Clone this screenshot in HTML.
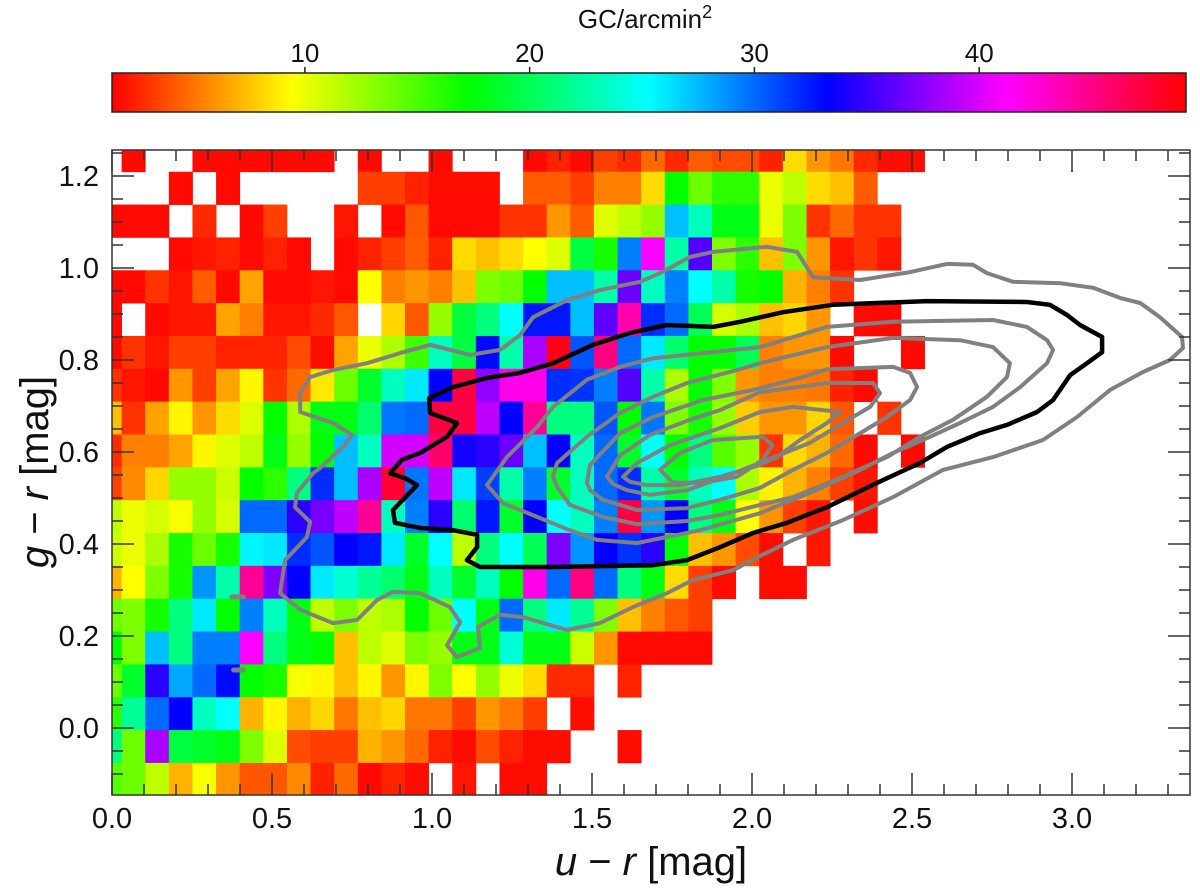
<!DOCTYPE html>
<html><head><meta charset="utf-8">
<style>
html,body{margin:0;padding:0;background:#fff;}
svg{display:block;font-family:"Liberation Sans",Arial,sans-serif;}
</style></head>
<body>
<svg id="chart" width="1200" height="890" viewBox="0 0 1200 890" xmlns="http://www.w3.org/2000/svg">
<defs>
<linearGradient id="hsvgrad" x1="0" x2="1" y1="0" y2="0">
<stop offset="0" stop-color="#ff0000"/><stop offset="0.1667" stop-color="#ffff00"/>
<stop offset="0.3333" stop-color="#00ff00"/><stop offset="0.5" stop-color="#00ffff"/>
<stop offset="0.6667" stop-color="#0000ff"/><stop offset="0.8333" stop-color="#ff00ff"/>
<stop offset="1" stop-color="#ff0000"/>
</linearGradient>
<clipPath id="plotclip"><rect x="112" y="150" width="1078" height="645"/></clipPath>
</defs>
<g id="cbar"></g>
<g id="cells" clip-path="url(#plotclip)"></g>
<g id="contours" clip-path="url(#plotclip)" fill="none" stroke-linejoin="round" stroke-linecap="round"></g>
<g id="axes"></g>
</svg>
<script>
// ---- data ----
const vMin = 1.42, vMax = 49.2;
const cbarTicks = [10, 20, 30, 40];
const xTicks = [0.0, 0.5, 1.0, 1.5, 2.0, 2.5, 3.0];
const yTicks = [0.0, 0.2, 0.4, 0.6, 0.8, 1.0, 1.2];
const binX0 = -0.04375, binDX = 0.0738;
const binYTop = 1.2807, binDY = 0.0714;
const grid = [
[0,1.7,0,0,1.7,1.7,1.7,1.7,1.7,1.7,0,1.7,0,0,1.7,0,0,0,1.7,2.5,1.7,3.4,2.7,4.7,2.7,4.3,3.8,3.8,2.5,8.3,6.1,5.1,2.7,1.8,1.8],
[0,0,0,1.7,0,1.7,0,0,0,0,0,3.4,3.4,2.5,1.8,1.8,1.8,0,4.3,4.3,3.4,5.4,5.4,8.3,17.3,14.0,16.0,16.0,10.0,11.4,8.3,7.4,4.3,0,0],
[1.7,1.7,1.7,0,2.7,0,1.7,3.4,0,0,2.1,0,1.7,4.1,1.7,1.7,1.7,3.0,3.0,6.1,4.3,10.4,11.4,12.7,27.3,23.3,18.0,18.0,10.0,13.4,3.0,4.7,3.0,3.0,0],
[0,0,0,1.7,2.1,2.5,1.7,2.5,1.7,0,1.7,2.5,3.4,4.3,2.5,8.3,7.4,8.3,9.4,10.4,19.3,16.7,29.3,41.2,22.6,35.9,13.4,16.0,7.4,13.4,6.1,2.1,3.0,2.1,0],
[1.7,1.7,3.0,2.1,4.3,1.7,6.5,1.7,1.7,2.1,1.7,9.4,5.4,6.1,5.4,7.4,13.4,14.0,17.3,27.3,27.3,22.6,36.6,23.3,29.3,25.3,22.6,16.7,17.3,7.0,5.4,3.0,0,0,0],
[1.7,0,1.7,2.1,2.1,6.5,5.4,2.1,2.1,2.7,4.1,0,8.1,4.1,12.7,19.3,21.3,25.3,32.6,32.6,27.3,36.2,43.9,31.9,30.0,20.0,10.7,12.0,7.4,8.1,6.1,0,1.7,1.7,0],
[1.7,3.0,2.1,3.4,3.4,2.5,2.5,2.5,3.8,1.8,6.5,10.0,12.0,15.4,23.3,19.3,33.0,22.6,38.6,48.5,30.6,45.2,30.0,26.0,20.7,17.3,17.3,20.0,5.4,6.1,6.1,1.7,0,0,1.7],
[3.0,2.1,1.7,6.1,3.4,6.5,9.1,3.0,4.7,8.7,14.0,18.7,23.3,26.0,33.3,47.2,37.9,41.9,41.9,31.9,31.7,29.3,35.9,22.6,12.0,17.3,13.4,6.1,5.4,5.4,5.1,2.5,1.7,0,0],
[7.4,3.0,6.5,9.1,6.1,8.3,10.4,17.3,12.0,18.0,18.0,20.7,29.6,30.0,47.2,47.2,39.2,33.3,44.5,21.3,21.3,30.6,17.3,29.6,13.4,16.7,12.7,7.8,6.1,6.1,8.1,4.1,0,3.0,0],
[2.7,5.4,5.4,6.5,9.1,10.4,11.4,18.0,12.7,17.3,27.3,23.3,39.9,39.9,45.9,33.9,34.6,36.6,27.3,33.3,23.3,30.0,18.7,25.3,17.3,21.3,14.7,12.7,3.0,8.3,7.0,4.7,1.7,0,1.7],
[3.4,5.7,8.1,12.7,12.7,11.0,17.3,16.0,21.3,31.9,27.3,38.6,47.6,29.6,39.2,26.0,31.3,22.6,29.3,18.7,23.3,30.0,31.9,22.6,18.7,23.3,25.3,12.0,9.0,7.0,5.4,3.4,2.1,0,0],
[11.4,10.0,10.7,9.6,12.7,10.7,30.0,30.0,34.6,37.0,39.2,44.5,23.3,29.3,34.6,20.7,32.6,18.7,33.3,25.3,23.3,29.3,47.2,28.6,33.3,21.3,18.0,9.4,6.0,3.4,2.1,0,1.8,0,0],
[11.0,10.0,12.0,16.7,14.0,16.7,25.6,26.0,31.9,30.6,33.3,32.6,26.0,18.7,25.3,11.4,21.3,25.3,20.0,37.2,28.6,33.3,31.7,34.6,17.3,7.4,6.1,3.8,1.8,0,2.1,0,0,0,0],
[7.0,9.4,13.4,16.7,28.6,22.6,44.5,37.2,33.3,26.0,24.0,22.0,20.7,18.0,23.3,18.7,23.3,17.3,41.9,30.0,45.2,30.0,21.3,18.0,8.3,3.4,1.8,0,1.8,1.8,0,0,0,0,0],
[14.0,13.4,16.7,21.3,26.0,17.3,29.3,23.3,18.0,11.4,13.4,11.4,12.0,17.3,14.0,25.3,18.0,30.0,21.3,26.0,22.0,13.4,7.4,5.4,4.1,3.4,0,0,0,0,0,0,0,0,0],
[17.3,13.4,27.3,21.3,29.3,29.3,41.2,21.3,18.0,17.3,7.4,11.4,10.4,13.4,12.7,18.0,18.0,24.0,18.0,18.0,11.0,6.1,1.7,1.7,1.7,1.7,0,0,0,0,0,0,0,0,0],
[14.0,18.7,34.6,28.0,30.0,33.0,17.3,16.7,9.6,9.1,7.4,9.1,6.1,9.1,13.4,9.4,12.7,10.0,8.3,2.7,2.7,0,2.5,0,0,0,0,0,0,0,0,0,0,0,0],
[16.0,22.0,30.0,33.3,23.3,25.3,7.0,9.1,7.0,8.1,5.1,7.4,8.1,5.1,5.1,3.4,6.1,5.1,3.4,0,1.8,0,0,0,0,0,0,0,0,0,0,0,0,0,0],
[21.3,14.0,38.6,19.3,18.7,18.0,13.4,10.4,3.8,3.4,3.4,7.0,6.1,4.7,2.5,1.8,3.8,2.5,1.8,1.8,0,0,1.8,0,0,0,0,0,0,0,0,0,0,0,0],
[14.7,14.0,11.4,7.0,9.6,6.1,4.1,4.1,5.7,2.5,4.7,1.7,2.5,1.8,0,2.1,0,1.8,1.8,0,0,0,0,0,0,0,0,0,0,0,0,0,0,0,0]
];
const contourOuter = [[1.275,0.854],[1.213,0.822],[1.119,0.811],[1.034,0.826],[0.994,0.833],[0.900,0.815],[0.797,0.793],[0.691,0.778],[0.619,0.763],[0.588,0.728],[0.588,0.687],[0.691,0.663],[0.750,0.637],[0.722,0.611],[0.650,0.565],[0.628,0.554],[0.578,0.511],[0.572,0.480],[0.619,0.448],[0.609,0.415],[0.541,0.365],[0.525,0.293],[0.588,0.257],[0.691,0.228],[0.766,0.235],[0.828,0.278],[0.878,0.296],[0.963,0.293],[1.056,0.263],[1.088,0.230],[1.047,0.180],[1.078,0.154],[1.150,0.174],[1.144,0.220],[1.213,0.246],[1.284,0.241],[1.422,0.213],[1.525,0.228],[1.628,0.263],[1.734,0.293],[1.816,0.322],[1.941,0.343],[2.025,0.374],[2.128,0.409],[2.284,0.452],[2.441,0.502],[2.597,0.561],[2.753,0.589],[2.909,0.626],[3.016,0.676],[3.119,0.735],[3.222,0.774],[3.306,0.800],[3.347,0.826],[3.344,0.850],[3.275,0.893],[3.213,0.924],[3.150,0.935],[3.066,0.957],[2.963,0.967],[2.816,0.970],[2.734,0.989],[2.691,1.007],[2.609,1.009],[2.494,0.991],[2.338,0.974],[2.191,0.980],[2.141,1.035],[2.047,1.046],[1.878,1.035],[1.806,1.024],[1.713,0.989],[1.650,0.970],[1.525,0.952],[1.422,0.930],[1.316,0.893]];
const contourBlack = [[0.991,0.717],[1.066,0.741],[1.172,0.761],[1.275,0.772],[1.378,0.793],[1.503,0.833],[1.619,0.859],[1.734,0.876],[1.878,0.872],[1.963,0.883],[2.097,0.904],[2.253,0.920],[2.547,0.928],[2.859,0.926],[2.931,0.920],[2.984,0.898],[3.025,0.876],[3.094,0.850],[3.094,0.817],[3.047,0.793],[2.994,0.767],[2.941,0.713],[2.891,0.687],[2.797,0.659],[2.713,0.641],[2.609,0.611],[2.525,0.576],[2.391,0.533],[2.234,0.480],[2.109,0.446],[2.003,0.424],[1.900,0.393],[1.797,0.365],[1.691,0.354],[1.378,0.350],[1.150,0.350],[1.109,0.365],[1.141,0.393],[1.141,0.420],[1.066,0.430],[0.963,0.435],[0.884,0.446],[0.878,0.474],[0.953,0.528],[0.916,0.543],[0.869,0.554],[0.906,0.583],[0.963,0.598],[1.047,0.633],[1.078,0.663],[0.994,0.685]];
const contourL2 = [[1.172,0.528],[1.234,0.589],[1.328,0.654],[1.378,0.698],[1.484,0.757],[1.588,0.785],[1.691,0.804],[1.847,0.815],[2.025,0.828],[2.234,0.872],[2.441,0.883],[2.753,0.887],[2.859,0.872],[2.922,0.843],[2.941,0.822],[2.922,0.793],[2.838,0.741],[2.753,0.698],[2.650,0.663],[2.547,0.630],[2.441,0.598],[2.338,0.561],[2.181,0.511],[2.025,0.467],[1.838,0.430],[1.641,0.402],[1.516,0.409],[1.431,0.430],[1.328,0.459],[1.222,0.489]];
const contourL3 = [[1.378,0.546],[1.391,0.576],[1.484,0.633],[1.588,0.685],[1.691,0.720],[1.797,0.750],[1.953,0.778],[2.025,0.793],[2.234,0.828],[2.441,0.848],[2.650,0.843],[2.753,0.828],[2.806,0.793],[2.797,0.763],[2.734,0.720],[2.628,0.670],[2.525,0.633],[2.422,0.589],[2.284,0.546],[2.128,0.502],[2.025,0.485],[1.900,0.463],[1.797,0.450],[1.641,0.443],[1.534,0.459],[1.431,0.485],[1.391,0.524]];
const contourL4 = [[1.484,0.533],[1.494,0.572],[1.588,0.641],[1.691,0.676],[1.847,0.713],[2.003,0.735],[2.150,0.761],[2.234,0.780],[2.441,0.785],[2.494,0.772],[2.516,0.741],[2.494,0.713],[2.422,0.676],[2.338,0.641],[2.234,0.598],[2.128,0.561],[2.025,0.522],[1.900,0.496],[1.797,0.478],[1.641,0.474],[1.534,0.496],[1.494,0.517]];
const contourL5 = [[1.547,0.546],[1.588,0.593],[1.681,0.637],[1.806,0.670],[1.900,0.691],[2.025,0.730],[2.234,0.750],[2.378,0.750],[2.400,0.728],[2.369,0.698],[2.284,0.663],[2.181,0.620],[2.025,0.576],[1.900,0.543],[1.797,0.517],[1.681,0.507],[1.609,0.517],[1.566,0.530]];
const contourL6 = [[1.597,0.546],[1.641,0.576],[1.744,0.615],[1.900,0.652],[2.025,0.687],[2.128,0.698],[2.275,0.687],[2.234,0.663],[2.150,0.626],[2.078,0.589],[2.025,0.572],[1.900,0.546],[1.775,0.528],[1.672,0.528],[1.619,0.535]];
const contourL7 = [[1.713,0.561],[1.775,0.598],[1.878,0.626],[2.034,0.633],[2.063,0.615],[2.034,0.583],[1.953,0.546],[1.847,0.533],[1.753,0.533]];
const blobA = [[0.375,0.285],[0.41,0.285]];
const blobB = [[0.38,0.126],[0.41,0.126]];

// ---- scales ----
const PX0 = 112, PX1 = 1190, PY0 = 150, PY1 = 795;
function sx(v){ return 112 + v * 320; }
function sy(v){ return 728 - v * 460; }
function cbx(v){ return 112 + (v - vMin) / (vMax - vMin) * (1186 - 112); }
function colorOf(v){
  let t = (v - vMin) / (vMax - vMin); t = Math.max(0, Math.min(1, t));
  return 'hsl(' + (t * 360).toFixed(1) + ',100%,50%)';
}
const NS = 'http://www.w3.org/2000/svg';
function mk(tag, attrs, parent){
  const e = document.createElementNS(NS, tag);
  for (const k in attrs) e.setAttribute(k, attrs[k]);
  parent.appendChild(e); return e;
}

// ---- heatmap ----
const cells = document.getElementById('cells');
grid.forEach((row, r) => {
  row.forEach((v, c) => {
    if (!v) return;
    const x0 = sx(binX0 + c * binDX), x1 = sx(binX0 + (c + 1) * binDX);
    const y0 = sy(binYTop - r * binDY), y1 = sy(binYTop - (r + 1) * binDY);
    const el = mk('rect', {x: x0.toFixed(2), y: y0.toFixed(2), width: (x1 - x0 + 0.4).toFixed(2), height: (y1 - y0 + 0.4).toFixed(2), fill: colorOf(v)}, cells);
    
    
  });
});

// ---- contours ----
const cg = document.getElementById('contours');
function drawLine(pts, stroke, w, closed, name){
  const d = pts.map((p, i) => (i ? 'L' : 'M') + sx(p[0]).toFixed(1) + ',' + sy(p[1]).toFixed(1)).join('') + (closed ? 'Z' : '');
  const el = mk('path', {d: d, stroke: stroke, 'stroke-width': w}, cg);
  
  
}
drawLine(contourOuter, '#808080', 4, true, 'contour-outer');
drawLine(contourL2, '#808080', 4, true, 'contour-level-2');
drawLine(contourL3, '#808080', 4, true, 'contour-level-3');
drawLine(contourL4, '#808080', 4, true, 'contour-level-4');
drawLine(contourL5, '#808080', 4, true, 'contour-level-5');
drawLine(contourL6, '#808080', 4, true, 'contour-level-6');
drawLine(contourL7, '#808080', 4, true, 'contour-level-7');
drawLine(blobA, '#808080', 5, false, 'contour-blob');
drawLine(blobB, '#808080', 5, false, 'contour-blob');
drawLine(contourBlack, '#000000', 4.5, true, 'contour-black');

// ---- axes ----
const ax = document.getElementById('axes');
const frame = mk('rect', {x: PX0, y: PY0, width: PX1 - PX0, height: PY1 - PY0, fill: 'none', stroke: '#333', 'stroke-width': 1.5}, ax);


for (let i = 0; i <= 33; i++) {
  const v = i * 0.1, x = sx(v);
  if (x > PX1) break;
  const major = (i % 5 === 0), L = major ? 22 : 11;
  mk('line', {x1: x, x2: x, y1: PY1, y2: PY1 - L, stroke: '#333', 'stroke-width': 1.5}, ax);
  mk('line', {x1: x, x2: x, y1: PY0, y2: PY0 + L, stroke: '#333', 'stroke-width': 1.5}, ax);
}
for (let i = -2; i <= 25; i++) {
  const v = i * 0.05, y = sy(v);
  if (y < PY0 || y > PY1) continue;
  const major = (i % 4 === 0), L = major ? 22 : 11;
  mk('line', {x1: PX0, x2: PX0 + L, y1: y, y2: y, stroke: '#333', 'stroke-width': 1.5}, ax);
  mk('line', {x1: PX1, x2: PX1 - L, y1: y, y2: y, stroke: '#333', 'stroke-width': 1.5}, ax);
}
xTicks.forEach(v => {
  const t = mk('text', {x: sx(v), y: 828, 'text-anchor': 'middle', 'font-size': 29, fill: '#111'}, ax);
  t.textContent = v.toFixed(1);
  
  
});
yTicks.forEach(v => {
  const t = mk('text', {x: 99, y: sy(v) + 10, 'text-anchor': 'end', 'font-size': 29, fill: '#111'}, ax);
  t.textContent = v.toFixed(1);
  
  
});
const xt = mk('text', {x: 651, y: 875, 'text-anchor': 'middle', 'font-size': 40, fill: '#111'}, ax);
xt.innerHTML = '<tspan font-style="italic">u</tspan> − <tspan font-style="italic">r</tspan> [mag]';


const yt = mk('text', {x: 0, y: 0, 'text-anchor': 'middle', 'font-size': 40, fill: '#111', transform: 'translate(48,472) rotate(-90)'}, ax);
yt.innerHTML = '<tspan font-style="italic">g</tspan> − <tspan font-style="italic">r</tspan> [mag]';



// ---- colorbar ----
const cb = document.getElementById('cbar');
const bar = mk('rect', {x: 112, y: 73, width: 1074, height: 39, fill: 'url(#hsvgrad)', stroke: '#222', 'stroke-width': 1.5}, cb);


cbarTicks.forEach(v => {
  const x = cbx(v);
  mk('line', {x1: x, x2: x, y1: 73, y2: 67, stroke: '#222', 'stroke-width': 1.5}, cb);
  const t = mk('text', {x: x, y: 62, 'text-anchor': 'middle', 'font-size': 26, fill: '#111'}, cb);
  t.textContent = v;
  
  
});
const ct = mk('text', {x: 645, y: 28, 'text-anchor': 'middle', 'font-size': 26, fill: '#111'}, cb);
ct.innerHTML = 'GC/arcmin<tspan dy="-10" font-size="18">2</tspan>';


</script>
</body></html>
